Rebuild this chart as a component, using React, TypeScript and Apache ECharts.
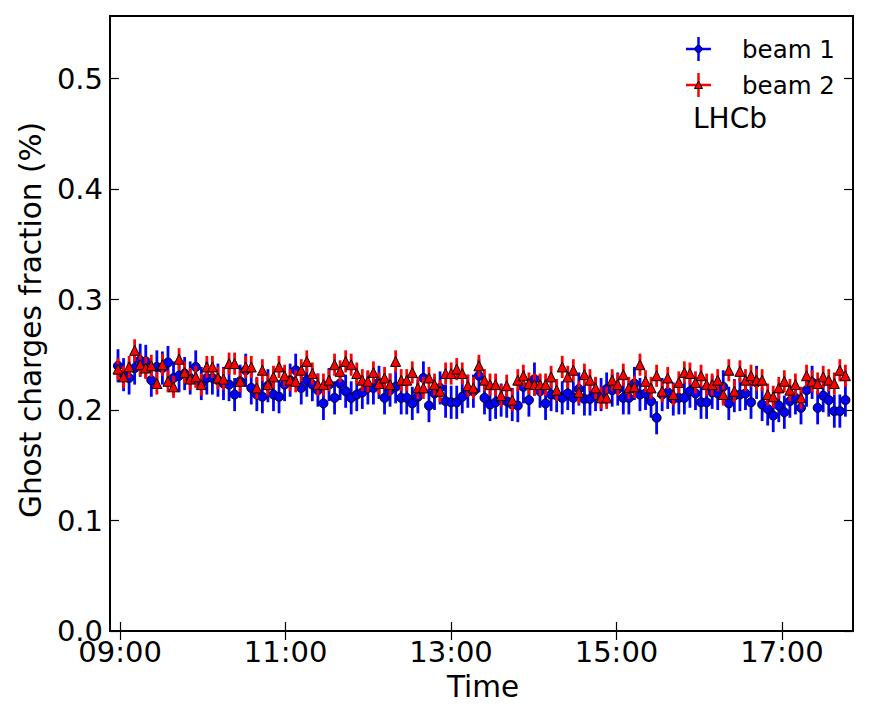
import React, { useEffect, useRef } from "react";
import * as echarts from "echarts";

// Time in minutes after midnight: first and last sample, regularly spaced
const T_START = 538.5;
const T_END = 1066.0;

const BEAM1 = [
  0.240, 0.232, 0.229, 0.238, 0.245, 0.244, 0.227, 0.239, 0.238, 0.243, 0.229, 0.231, 0.233, 0.229, 0.239, 0.224, 0.229, 0.229, 0.227, 0.224, 0.223, 0.214,
  0.226, 0.236, 0.220, 0.214, 0.212, 0.222, 0.214, 0.212, 0.223, 0.227, 0.236, 0.220, 0.227, 0.223, 0.218, 0.206, 0.223, 0.211, 0.224, 0.217, 0.211, 0.214,
  0.216, 0.220, 0.220, 0.225, 0.211, 0.218, 0.221, 0.211, 0.211, 0.206, 0.212, 0.229, 0.204, 0.215, 0.220, 0.208, 0.207, 0.207, 0.212, 0.217, 0.217, 0.231,
  0.211, 0.205, 0.207, 0.209, 0.208, 0.205, 0.204, 0.221, 0.209, 0.228, 0.217, 0.206, 0.214, 0.213, 0.211, 0.215, 0.211, 0.219, 0.210, 0.210, 0.214, 0.214,
  0.219, 0.218, 0.219, 0.211, 0.211, 0.224, 0.214, 0.215, 0.208, 0.193, 0.214, 0.216, 0.210, 0.211, 0.211, 0.217, 0.215, 0.207, 0.207, 0.216, 0.215, 0.221,
  0.206, 0.213, 0.214, 0.215, 0.207, 0.225, 0.205, 0.201, 0.195, 0.204, 0.198, 0.208, 0.211, 0.202, 0.218, 0.225, 0.202, 0.213, 0.209, 0.199, 0.199, 0.209,
];

const BEAM2 = [
  0.237, 0.230, 0.239, 0.254, 0.241, 0.238, 0.240, 0.224, 0.241, 0.226, 0.221, 0.246, 0.234, 0.228, 0.230, 0.223, 0.239, 0.239, 0.229, 0.228, 0.242, 0.242,
  0.226, 0.239, 0.239, 0.220, 0.236, 0.223, 0.230, 0.239, 0.231, 0.227, 0.226, 0.236, 0.244, 0.233, 0.223, 0.223, 0.227, 0.241, 0.235, 0.244, 0.241, 0.233,
  0.227, 0.226, 0.234, 0.224, 0.229, 0.223, 0.244, 0.227, 0.227, 0.234, 0.220, 0.220, 0.229, 0.223, 0.217, 0.233, 0.233, 0.237, 0.233, 0.222, 0.220, 0.240,
  0.227, 0.223, 0.223, 0.213, 0.222, 0.209, 0.227, 0.231, 0.224, 0.223, 0.223, 0.223, 0.230, 0.218, 0.239, 0.230, 0.236, 0.216, 0.232, 0.227, 0.220, 0.211,
  0.211, 0.227, 0.223, 0.232, 0.220, 0.221, 0.241, 0.226, 0.220, 0.231, 0.217, 0.229, 0.214, 0.225, 0.234, 0.233, 0.225, 0.231, 0.223, 0.223, 0.227, 0.214,
  0.236, 0.217, 0.235, 0.227, 0.231, 0.227, 0.227, 0.214, 0.212, 0.220, 0.226, 0.218, 0.223, 0.211, 0.231, 0.226, 0.224, 0.230, 0.227, 0.224, 0.236, 0.231,
];

const BEAM1_ERR = 0.015;
const BEAM2_ERR = 0.010;

const X_TICKS = [540, 660, 780, 900, 1020];
const Y_TICKS = [0, 0.1, 0.2, 0.3, 0.4, 0.5];
const X_MIN = 532.7;
const X_MAX = 1071.5;
const Y_MAX = 0.5566;

const FONT = "DejaVu Sans";

function fmtTime(m: number): string {
  const h = Math.floor(m / 60);
  const mm = Math.round(m - h * 60);
  return String(h).padStart(2, "0") + ":" + String(mm).padStart(2, "0");
}

export default function App() {
  const ref = useRef<HTMLDivElement>(null);

  useEffect(() => {
    if (!ref.current) return;
    const chart = echarts.init(ref.current, undefined, { renderer: "svg" });
    const n = BEAM1.length;
    const times = BEAM1.map((_, i) => T_START + (i * (T_END - T_START)) / (n - 1));
    const b1 = times.map((t, i) => [t, BEAM1[i], BEAM1_ERR]);
    const b2 = times.map((t, i) => [t, BEAM2[i], BEAM2_ERR]);

    const errRender = (color: string) => (params: any, api: any) => {
      const x = api.value(0);
      const y = api.value(1);
      const e = api.value(2);
      const p1 = api.coord([x, y - e]);
      const p2 = api.coord([x, y + e]);
      return {
        type: "line",
        shape: { x1: p1[0], y1: p1[1], x2: p2[0], y2: p2[1] },
        style: { stroke: color, lineWidth: 2.8 },
      };
    };

    const tickCommon = { inside: true, length: 9, lineStyle: { color: "#000", width: 1.2 } };

    chart.setOption({
      animation: false,
      backgroundColor: "#fff",
      grid: {
        left: 110,
        right: 18,
        top: 16,
        bottom: 84,
        show: true,
        borderColor: "#000",
        borderWidth: 2,
        backgroundColor: "transparent",
      },
      xAxis: [
        {
          type: "value",
          min: X_MIN,
          max: X_MAX,
          position: "bottom",
          axisLine: { show: false },
          splitLine: { show: false },
          axisTick: { ...tickCommon, customValues: X_TICKS },
          axisLabel: {
            customValues: X_TICKS,
            formatter: (v: number) => fmtTime(v),
            color: "#000",
            fontFamily: FONT,
            fontSize: 29,
            margin: 6,
          },
        },
        {
          type: "value",
          min: X_MIN,
          max: X_MAX,
          position: "top",
          axisLine: { show: false },
          splitLine: { show: false },
          axisTick: { ...tickCommon, customValues: X_TICKS },
          axisLabel: { show: false },
        },
      ],
      yAxis: [
        {
          type: "value",
          min: 0,
          max: Y_MAX,
          position: "left",
          axisLine: { show: false },
          splitLine: { show: false },
          axisTick: { ...tickCommon, customValues: Y_TICKS },
          axisLabel: {
            customValues: Y_TICKS,
            formatter: (v: number) => v.toFixed(1),
            color: "#000",
            fontFamily: FONT,
            fontSize: 29,
            margin: 7,
          },
        },
        {
          type: "value",
          min: 0,
          max: Y_MAX,
          position: "right",
          axisLine: { show: false },
          splitLine: { show: false },
          axisTick: { ...tickCommon, customValues: Y_TICKS },
          axisLabel: { show: false },
        },
      ],
      series: [
        {
          type: "custom",
          name: "beam 1 err",
          data: b1,
          encode: { x: 0, y: 1 },
          renderItem: errRender("#0000ff"),
          z: 2,
          clip: true,
        },
        {
          type: "scatter",
          name: "beam 1",
          data: b1.map((d) => [d[0], d[1]]),
          symbol: "circle",
          symbolSize: 9,
          itemStyle: { color: "#0000ff", borderColor: "#000", borderWidth: 1, opacity: 1 },
          z: 3,
        },
        {
          type: "custom",
          name: "beam 2 err",
          data: b2,
          encode: { x: 0, y: 1 },
          renderItem: errRender("#ff0000"),
          z: 4,
          clip: true,
        },
        {
          type: "scatter",
          name: "beam 2",
          data: b2.map((d) => [d[0], d[1]]),
          symbol: "triangle",
          symbolSize: 10,
          itemStyle: { color: "#ff0000", borderColor: "#000", borderWidth: 1, opacity: 1 },
          z: 5,
        },
      ],
      graphic: [
        // axis titles
        {
          type: "text",
          x: 483,
          y: 687,
          style: {
            text: "Time",
            font: `29.5px "${FONT}"`,
            fill: "#000",
            align: "center",
            verticalAlign: "middle",
          },
        },
        {
          type: "text",
          x: 31,
          y: 320,
          rotation: Math.PI / 2,
          style: {
            text: "Ghost charges fraction (%)",
            font: `29.5px "${FONT}"`,
            fill: "#000",
            align: "center",
            verticalAlign: "middle",
          },
        },
        // legend: beam 1
        { type: "line", shape: { x1: 686, y1: 49, x2: 711, y2: 49 }, style: { stroke: "#0000ff", lineWidth: 2.5 } },
        { type: "line", shape: { x1: 698.5, y1: 37, x2: 698.5, y2: 61 }, style: { stroke: "#0000ff", lineWidth: 2.5 } },
        { type: "circle", shape: { cx: 698.5, cy: 49, r: 3.5 }, style: { fill: "#0000ff", stroke: "#000", lineWidth: 1 } },
        {
          type: "text",
          x: 742,
          y: 49,
          style: { text: "beam 1", font: `24.5px "${FONT}"`, fill: "#000", align: "left", verticalAlign: "middle" },
        },
        // legend: beam 2
        { type: "line", shape: { x1: 686, y1: 85, x2: 711, y2: 85 }, style: { stroke: "#ff0000", lineWidth: 2.5 } },
        { type: "line", shape: { x1: 698.5, y1: 73, x2: 698.5, y2: 97 }, style: { stroke: "#ff0000", lineWidth: 2.5 } },
        {
          type: "polygon",
          shape: { points: [[698.5, 81], [694.5, 88.5], [702.5, 88.5]] },
          style: { fill: "#ff0000", stroke: "#000", lineWidth: 1 },
        },
        {
          type: "text",
          x: 742,
          y: 85,
          style: { text: "beam 2", font: `24.5px "${FONT}"`, fill: "#000", align: "left", verticalAlign: "middle" },
        },
        {
          type: "text",
          x: 693,
          y: 118,
          style: { text: "LHCb", font: `28px "${FONT}"`, fill: "#000", align: "left", verticalAlign: "middle" },
        },
      ],
    });

    return () => {
      chart.dispose();
    };
  }, []);

  return (
    <div
      ref={ref}
      style={{ position: "fixed", left: 0, top: 0, width: 871, height: 715, background: "#fff" }}
    />
  );
}
